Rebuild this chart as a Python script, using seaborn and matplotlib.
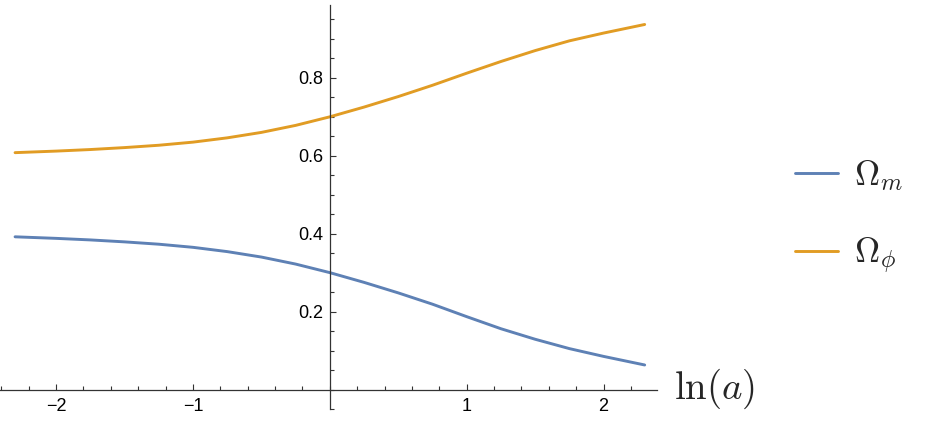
import numpy as np
import pandas as pd
import matplotlib
matplotlib.use("Agg")
import matplotlib.pyplot as plt
from matplotlib.ticker import MultipleLocator, FixedLocator
import seaborn as sns

# values
ln_a = [-2.3, -2.0, -1.75, -1.5, -1.25, -1.0, -0.75, -0.5, -0.25, 0.0,
        0.25, 0.5, 0.75, 1.0, 1.25, 1.5, 1.75, 2.0, 2.3]
omega_m = [0.392, 0.388, 0.384, 0.379, 0.373, 0.365, 0.354, 0.340, 0.322, 0.300,
           0.275, 0.248, 0.219, 0.187, 0.156, 0.129, 0.105, 0.085, 0.063]
omega_phi = [0.608, 0.612, 0.616, 0.621, 0.627, 0.635, 0.646, 0.660, 0.678, 0.700,
             0.725, 0.752, 0.781, 0.812, 0.842, 0.870, 0.895, 0.915, 0.937]
labels = [r"$\Omega_m$", r"$\Omega_\phi$"]
colors = ["#5E81B5", "#E19C24"]

df = pd.concat([
    pd.DataFrame({"x": ln_a, "y": omega_m, "s": labels[0]}),
    pd.DataFrame({"x": ln_a, "y": omega_phi, "s": labels[1]}),
])

sns.set_style("white")
plt.rcParams["font.family"] = ["Liberation Sans", "DejaVu Sans"]
plt.rcParams["mathtext.fontset"] = "cm"

fig = plt.figure(figsize=(9.26, 4.21), dpi=100)
ax = fig.add_axes([0, 12 / 421, 657 / 926, 404 / 421])

sns.lineplot(data=df, x="x", y="y", hue="s", palette=colors, linewidth=2.1,
             ax=ax, legend=True)

ax.set_xlim(-2.41, 2.39)
ax.set_ylim(-0.05, 0.987)

for side in ["top", "right"]:
    ax.spines[side].set_visible(False)
ax.spines["left"].set_position(("data", 0))
ax.spines["bottom"].set_position(("data", 0))
for side in ["left", "bottom"]:
    ax.spines[side].set_color("#333333")
    ax.spines[side].set_linewidth(0.9)

ax.xaxis.set_major_locator(FixedLocator([-2, -1, 1, 2]))
ax.xaxis.set_minor_locator(MultipleLocator(0.2))
ax.yaxis.set_major_locator(FixedLocator([0.2, 0.4, 0.6, 0.8]))
ax.yaxis.set_minor_locator(MultipleLocator(0.05))
ax.set_xticklabels(["\u22122", "\u22121", "1", "2"])
ax.set_yticklabels(["0.2", "0.4", "0.6", "0.8"])
ax.tick_params(which="both", direction="in", color="#333333", width=0.8,
               labelsize=13, labelcolor="black", bottom=True, left=True)
ax.tick_params(which="major", length=4.5)
ax.tick_params(which="minor", length=3)
ax.tick_params(axis="x", which="both", pad=6)
ax.tick_params(axis="y", which="both", pad=5)

ax.set_xlabel("")
ax.set_ylabel("")
fig.text(674 / 926, 1 - 389 / 421, r"$\ln(a)$", fontsize=28, va="center", ha="left")

handles, labs = ax.get_legend_handles_labels()
ax.legend_.remove()
fig.legend(handles, labs, loc="center left", bbox_to_anchor=(764 / 926, 1 - 217 / 421),
           frameon=False, fontsize=25, handlelength=1.24, handletextpad=0.45,
           labelspacing=1.25)

fig.savefig("out.png", dpi=100)
